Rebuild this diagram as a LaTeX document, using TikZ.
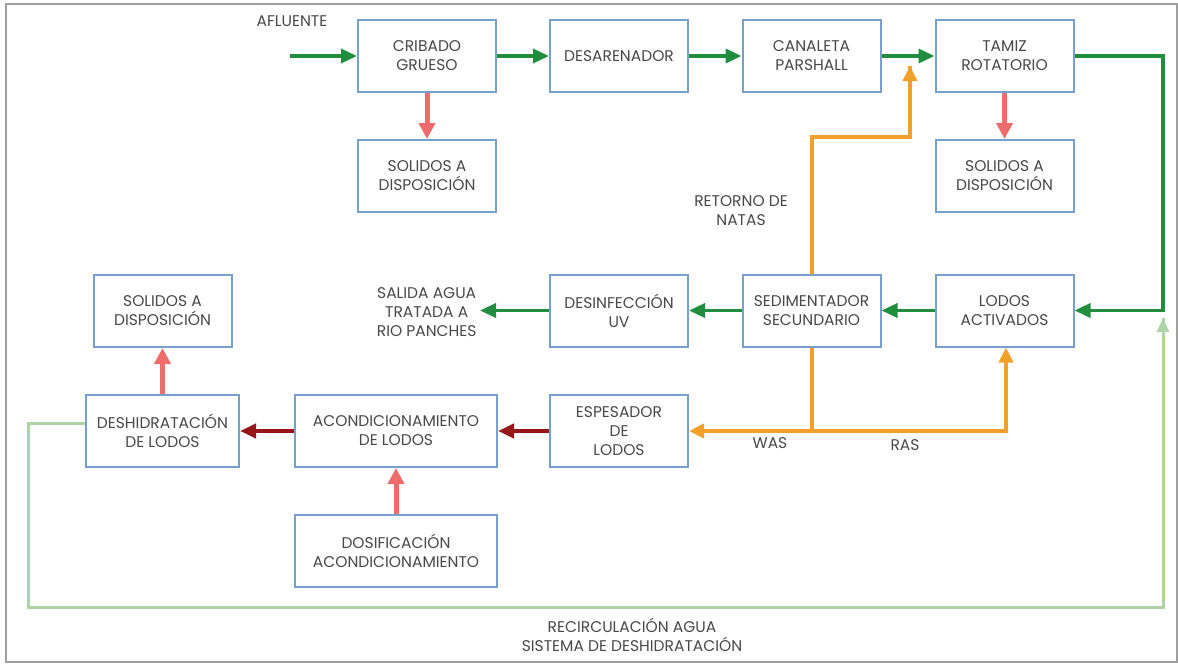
\documentclass[tikz,border=0pt]{standalone}
\usepackage{fontspec}
\setmainfont{Poppins}
\usepackage{xcolor}
\usepackage{tikz}
\usetikzlibrary{arrows.meta}
\definecolor{boxblue}{RGB}{120,160,205}
\definecolor{flowgreen}{RGB}{32,142,62}
\definecolor{solidred}{RGB}{238,108,108}
\definecolor{darkred}{RGB}{150,22,26}
\definecolor{sludgeorange}{RGB}{242,160,42}
\definecolor{paleGreen}{RGB}{172,212,164}
\definecolor{txtgray}{RGB}{72,72,72}
\tikzset{
  unitbox/.style={draw=boxblue,line width=2pt,fill=white,minimum width=138pt,
    minimum height=72pt,align=center,inner sep=2pt,text=txtgray,font=\fontsize{15.5}{19}\selectfont},
  tag/.style={align=center,text=txtgray,font=\fontsize{15.5}{19}\selectfont},
  water/.style={draw=flowgreen,line width=3.5pt,-{Triangle[length=16pt,width=14pt]}},
  solids/.style={draw=solidred,line width=5pt,-{Triangle[length=16pt,width=16pt]}},
  sludge/.style={draw=darkred,line width=4pt,-{Triangle[length=16pt,width=14pt]}},
  natas/.style={draw=sludgeorange,line width=4pt},
  recirc/.style={draw=paleGreen,line width=3pt}
}
\begin{document}
\begin{tikzpicture}[x=1pt,y=-1pt]
    \useasboundingbox (0,0) rectangle (1178,664);
    \draw[gray!75,line width=2.5pt] (6,4) rectangle (1177,662);
    % linea de agua
    \node[unitbox] (crib) at (427,56) {CRIBADO\\GRUESO};
    \node[unitbox] (desar) at (619,56) {DESARENADOR};
    \node[unitbox] (canal) at (811.5,56) {CANALETA\\PARSHALL};
    \node[unitbox] (tamiz) at (1004.5,56) {TAMIZ\\ROTATORIO};
    \node[unitbox] (solA) at (427,176) {SOLIDOS A\\DISPOSICIÓN};
    \node[unitbox] (solB) at (1004.5,176) {SOLIDOS A\\DISPOSICIÓN};
    \node[unitbox] (desinf) at (619,310.5) {DESINFECCIÓN\\UV};
    \node[unitbox] (sedim) at (811.5,310.5) {SEDIMENTADOR\\SECUNDARIO};
    \node[unitbox] (lodos) at (1004.5,310.5) {LODOS\\ACTIVADOS};
    % linea de lodos
    \node[unitbox] (solC) at (162.5,311) {SOLIDOS A\\DISPOSICIÓN};
    \node[unitbox,minimum width=153pt] (deshid) at (162.5,431) {DESHIDRATACIÓN\\DE LODOS};
    \node[unitbox,minimum width=202pt] (acond) at (396,431) {ACONDICIONAMIENTO\\DE LODOS};
    \node[unitbox] (espes) at (619,431) {ESPESADOR\\DE\\LODOS};
    \node[unitbox,minimum width=202pt] (dosif) at (396,551) {DOSIFICACIÓN\\ACONDICIONAMIENTO};
    \node[tag] (afl) at (292,21) {AFLUENTE};
    \node[tag,anchor=east] (salida) at (480,312) {SALIDA AGUA\\TRATADA A\\RIO PANCHES};
    \node[tag] (retorno) at (741,211) {RETORNO DE\\NATAS};
    \node[tag] (was) at (770,443) {WAS};
    \node[tag] (ras) at (905,445) {RAS};
    \node[tag] (recir) at (632,635) {RECIRCULACIÓN AGUA\\SISTEMA DE DESHIDRATACIÓN};
    \coordinate (inlet) at (290,56);
    \coordinate (corner) at (1163,56);
    \coordinate (natasUp) at (910,137);
    \coordinate (natasTip) at (910,66);
    \coordinate (split) at (811.5,431);
    \coordinate (rasTurn) at (1006,431);
    \coordinate (recA) at (28,423);
    \coordinate (recB) at (28,607);
    \coordinate (recC) at (1163,607);
    \coordinate (recTip) at (1163,318);
    % retornos
    \draw[natas] (sedim.north) |- (natasUp) -- (natasTip);
    \draw[natas,-{Triangle[length=15pt,width=14pt]}] (natasUp) -- (natasTip);
    \draw[natas,-{Triangle[length=15pt,width=14pt]}] (sedim.south) -- (split) -- (espes.east);
    \draw[natas,-{Triangle[length=15pt,width=14pt]}] (split) -- (rasTurn) -- (lodos.south -| rasTurn);
    \draw[recirc] (deshid.west |- recA) -- (recA) -- (recB) -- (recC) -- (recTip);
    \draw[recirc,-{Triangle[length=14pt,width=12pt]}] (recC) -- (recTip);
    \draw[water] (inlet) -- (crib.west);
    \draw[water] (crib) -- (desar);
    \draw[water] (desar) -- (canal);
    \draw[water] (canal) -- (tamiz);
    \draw[water] (tamiz.east) -- (corner) |- (lodos.east);
    \draw[water] (lodos) -- (sedim);
    \draw[water] (sedim) -- (desinf);
    \draw[water] (desinf.west) -- (desinf.west -| salida.east);
    \draw[solids] (crib) -- (solA);
    \draw[solids] (tamiz) -- (solB);
    \draw[solids] (deshid) -- (solC);
    \draw[solids] (dosif) -- (acond);
    \draw[sludge] (espes) -- (acond);
    \draw[sludge] (acond) -- (deshid);
\end{tikzpicture}
\end{document}
